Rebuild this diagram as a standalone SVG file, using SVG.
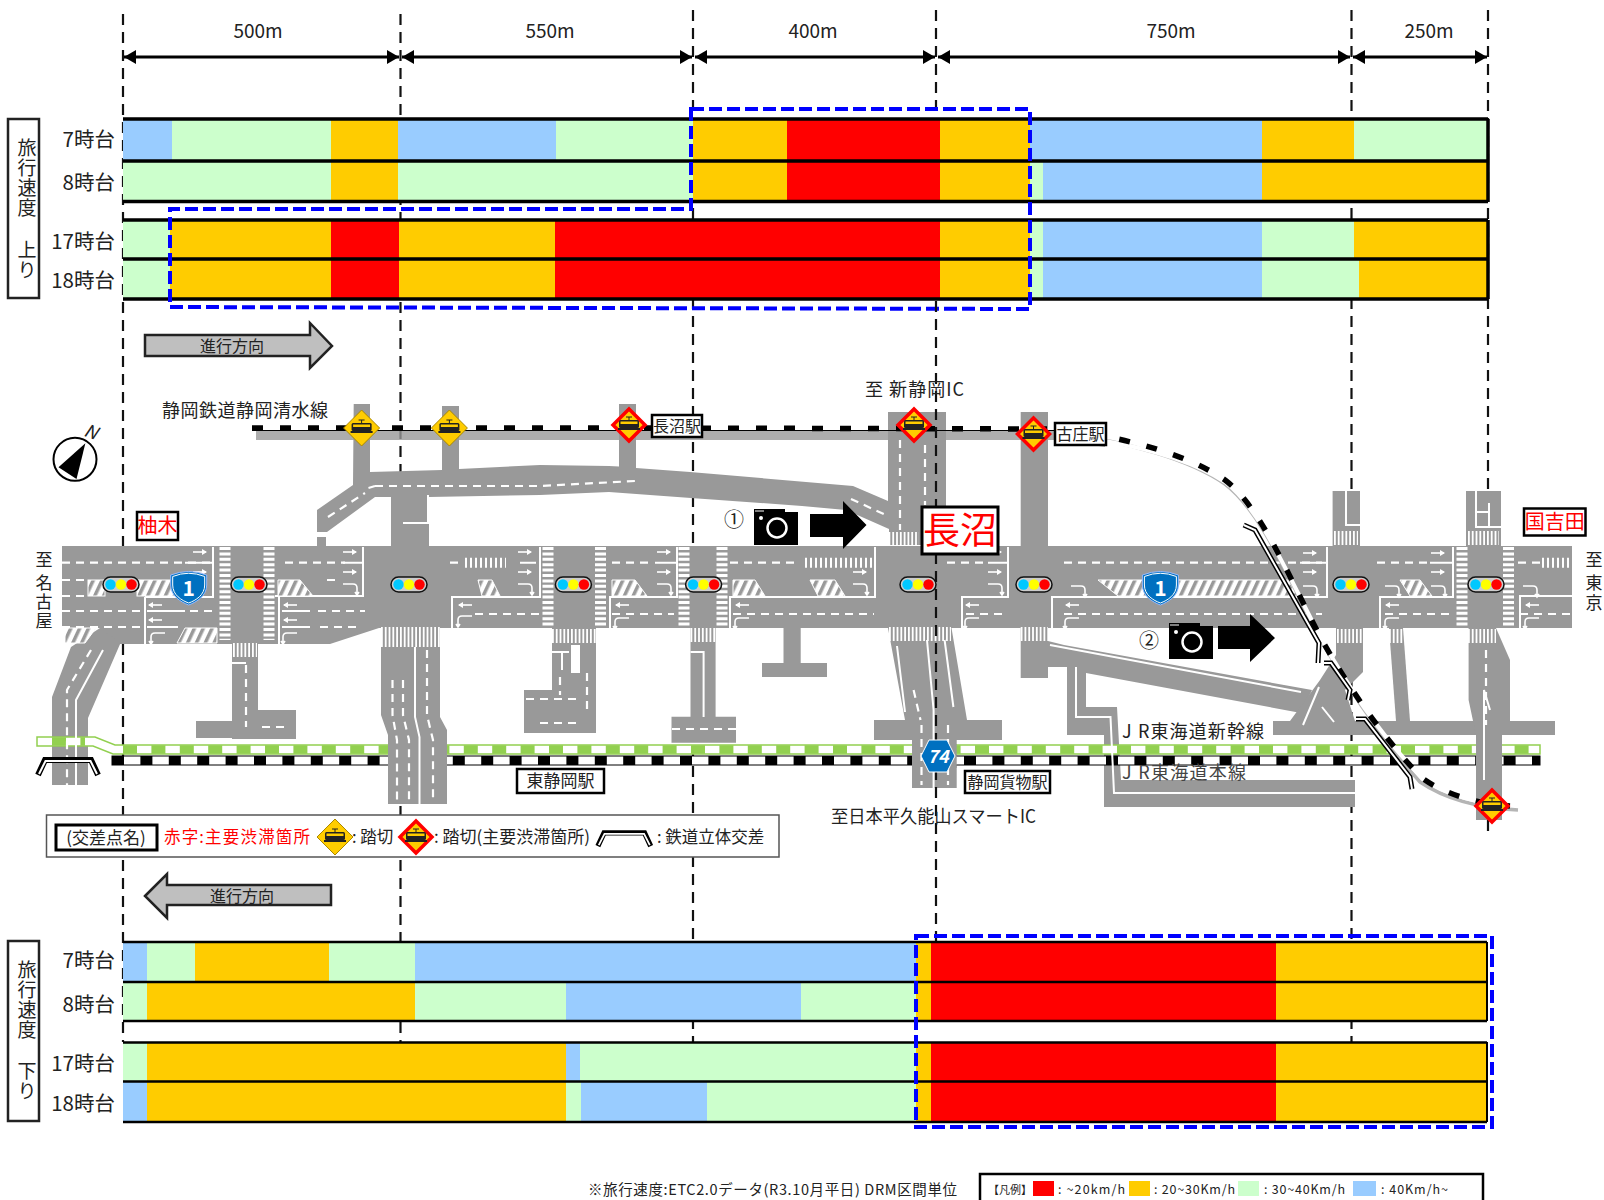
<svg xmlns="http://www.w3.org/2000/svg" width="1604" height="1200" viewBox="0 0 1604 1200">
<style>
text{font-family:"Noto Sans CJK JP","Noto Sans",sans-serif;fill:#222}
.r{fill:#f00}.o{fill:#fc0}.g{fill:#cfc}.b{fill:#9cf}
.bl{stroke:#000;stroke-width:3.5;fill:none}
.vd{stroke:#111;stroke-width:2.2;stroke-dasharray:11 7;fill:none}
.bd{stroke:#00f;stroke-width:4;stroke-dasharray:13 5;fill:none}
.dim{stroke:#000;stroke-width:3;fill:none;marker-start:url(#ah);marker-end:url(#ah)}
.rd{fill:#999}
.w{stroke:#fff;stroke-width:2;fill:none}
.wd{stroke:#fff;stroke-width:2.2;stroke-dasharray:8 6;fill:none}
.cw{stroke:#fff;stroke-width:11;stroke-dasharray:3 2.4;fill:none}
.cv{stroke:#fff;stroke-width:14;stroke-dasharray:1.8 2;fill:none}
.tk{stroke:#fff;stroke-width:10;stroke-dasharray:2 3;fill:none}
.ht{fill:url(#hatch);stroke:#fff;stroke-width:1}
.dirb{fill:#bfbfbf;stroke:#222;stroke-width:2.5}
.lab{font-size:18px}
.row{font-size:20.5px;text-anchor:end}
.dist{font-size:19px;text-anchor:middle}
.box{fill:#fff;stroke:#000;stroke-width:2.5}
.red{fill:#f00}
.sw{fill:#fff;stroke:#000;stroke-width:2.5}
</style>
<defs>
<marker id="ah" markerUnits="userSpaceOnUse" markerWidth="13" markerHeight="15" refX="12" refY="7" orient="auto-start-reverse"><path d="M0 0L12 7L0 14Z" fill="#000"/></marker>
<pattern id="hatch" patternUnits="userSpaceOnUse" width="8" height="8" patternTransform="rotate(25)"><rect width="8" height="8" fill="#fff"/><rect width="3.5" height="8" fill="#999"/></pattern>
<g id="ar"><path d="M-7 0H6" stroke="#fff" stroke-width="1.6" fill="none"/><path d="M2 -3L7 0L2 3Z" fill="#fff"/></g>
<g id="al"><path d="M-6 0H7" stroke="#fff" stroke-width="1.6" fill="none"/><path d="M-2 -3L-7 0L-2 3Z" fill="#fff"/></g>
<path id="ac" d="M-7 -4H3Q7 -4 7 0V6M5 4L7 7L9 4" stroke="#fff" stroke-width="1.6" fill="none"/>
<path id="at" d="M7 -4H-3Q-7 -4 -7 0V6M-9 4L-7 7L-5 4" stroke="#fff" stroke-width="1.6" fill="none"/>
<g id="sig"><rect x="-18" y="-7.5" width="36" height="15" rx="7.5" fill="#ccc" stroke="#111" stroke-width="1.5"/><circle cx="-10.5" r="5.2" fill="#00c8ff"/><circle r="5.2" fill="#ff0"/><circle cx="10.5" r="5.2" fill="#f00"/></g>
<g id="tram"><rect x="-10" y="-5" width="20" height="8" rx="1.5" fill="#222"/><rect x="-8.5" y="-3.5" width="17" height="2.5" fill="#fc0"/><path d="M-3 -8H3M0 -8V-5" stroke="#222" stroke-width="1"/><rect x="-11" y="3" width="22" height="2" fill="#222"/></g>
<g id="cy"><path d="M0 -18L18 0L0 18L-18 0Z" fill="#fc0" stroke="#a80" stroke-width="1"/><use href="#tram"/></g>
<g id="cr"><path d="M0 -16L16 0L0 16L-16 0Z" fill="#fc0" stroke="#f00" stroke-width="3.5"/><use href="#tram"/></g>
<g id="cam"><path d="M0 0H31V3H44V36H0Z" fill="#000"/><circle cx="23" cy="19" r="9.5" fill="none" stroke="#fff" stroke-width="2.5"/><circle cx="7" cy="9" r="2" fill="#fff"/><path d="M1 2H10" stroke="#fff" stroke-width="1"/></g>
<g id="r1"><path d="M-18 -13Q0 -20 18 -13V-3C18 8 8 14 0 17C-8 14 -18 8 -18 -3Z" fill="#0070c0" stroke="#9bf" stroke-width="1"/><path d="M-16 -11.500Q0 -18 16 -11.500V-3C16 7 7 12.500 0 15C-7 12.500 -16 7 -16 -3Z" fill="none" stroke="#fff" stroke-width="1"/><text y="8" text-anchor="middle" font-size="21" font-weight="700" style="fill:#fff">1</text></g>
<g id="ov"><path d="M1 16L8 1H54L61 16" stroke="#000" stroke-width="6" fill="none"/><path d="M2 15L8.500 2H53.500L60 15" stroke="#fff" stroke-width="2" fill="none"/></g>
</defs>

<g id="guides">
<path class="vd" d="M123 14V1042"/>
<path class="vd" d="M400.500 14V1042"/>
<path class="vd" d="M693 10V1042"/>
<path class="vd" d="M936 10V118"/>
<path class="vd" d="M1351.500 10V1042"/>
<path class="vd" d="M1488 10V832"/>
</g>

<g id="distances">
<path class="dim" d="M124 57H399"/>
<path class="dim" d="M402 57H692"/>
<path class="dim" d="M695 57H935"/>
<path class="dim" d="M938 57H1350"/>
<path class="dim" d="M1353 57H1487"/>
<text class="dist" x="258" y="38">500m</text>
<text class="dist" x="550" y="38">550m</text>
<text class="dist" x="813" y="38">400m</text>
<text class="dist" x="1171" y="38">750m</text>
<text class="dist" x="1429" y="38">250m</text>
</g>

<g id="speed-up">
<rect class="b" x="123" y="119" width="49" height="42"/><rect class="g" x="172" y="119" width="159" height="42"/><rect class="o" x="331" y="119" width="67" height="42"/><rect class="b" x="398" y="119" width="158" height="42"/><rect class="g" x="556" y="119" width="137" height="42"/><rect class="o" x="693" y="119" width="94" height="42"/><rect class="r" x="787" y="119" width="153" height="42"/><rect class="o" x="940" y="119" width="90" height="42"/><rect class="b" x="1030" y="119" width="232" height="42"/><rect class="o" x="1262" y="119" width="92" height="42"/><rect class="g" x="1354" y="119" width="134" height="42"/>
<rect class="g" x="123" y="161" width="208" height="41"/><rect class="o" x="331" y="161" width="67" height="41"/><rect class="g" x="398" y="161" width="295" height="41"/><rect class="o" x="693" y="161" width="94" height="41"/><rect class="r" x="787" y="161" width="153" height="41"/><rect class="o" x="940" y="161" width="90" height="41"/><rect class="g" x="1030" y="161" width="13" height="41"/><rect class="b" x="1043" y="161" width="219" height="41"/><rect class="o" x="1262" y="161" width="226" height="41"/>
<rect class="g" x="123" y="220" width="47" height="39"/><rect class="o" x="170" y="220" width="161" height="39"/><rect class="r" x="331" y="220" width="68" height="39"/><rect class="o" x="399" y="220" width="156" height="39"/><rect class="r" x="555" y="220" width="385" height="39"/><rect class="o" x="940" y="220" width="90" height="39"/><rect class="g" x="1030" y="220" width="13" height="39"/><rect class="b" x="1043" y="220" width="219" height="39"/><rect class="g" x="1262" y="220" width="92" height="39"/><rect class="o" x="1354" y="220" width="134" height="39"/>
<rect class="g" x="123" y="259" width="47" height="40"/><rect class="o" x="170" y="259" width="161" height="40"/><rect class="r" x="331" y="259" width="68" height="40"/><rect class="o" x="399" y="259" width="156" height="40"/><rect class="r" x="555" y="259" width="385" height="40"/><rect class="o" x="940" y="259" width="90" height="40"/><rect class="g" x="1030" y="259" width="13" height="40"/><rect class="b" x="1043" y="259" width="219" height="40"/><rect class="g" x="1262" y="259" width="97" height="40"/><rect class="o" x="1359" y="259" width="129" height="40"/>
<path class="bl" d="M123 119H1488M123 161H1488M123 201.500H1488M123 220H1488M123 259H1488M123 299H1488M1488 119V202M1488 220V299"/>
<path class="bd" d="M691 109H1030V309L170 307V209H691Z"/>
<rect x="8" y="119" width="31" height="179" fill="#fff" stroke="#222" stroke-width="2.5"/>
<text font-size="19" text-anchor="middle"><tspan x="27" y="155">旅</tspan><tspan x="27" y="175">行</tspan><tspan x="27" y="195">速</tspan><tspan x="27" y="215">度</tspan><tspan x="27" y="257">上</tspan><tspan x="27" y="277">り</tspan></text>
<text class="row" x="115" y="147">7時台</text><text class="row" x="115" y="190">8時台</text><text class="row" x="115" y="249">17時台</text><text class="row" x="115" y="288">18時台</text>
</g>

<g id="dir-up"><path class="dirb" d="M145 335H310V323L332 346L310 368V356H145Z"/><text x="232" y="352" text-anchor="middle" font-size="16">進行方向</text></g>

<g id="map-roads">
<path class="rd" d="M256 431H1060L1105 441L1105 447L1060 440H256Z" fill-opacity=".8"/>
<path class="rd" d="M353.700 404H370V472L442 470V406H459V469L540 465L609 466L619 466.500V404H636V468L690 472L853 486L888 501V412H946V545H889V529L846 510L802 506L691 498L609 492L540 495L429 497V546H391V497H375L327 532H317V510L353 485Z"/>
<rect class="rd" x="317" y="537" width="9" height="10"/>
<rect class="rd" x="1020.700" y="412" width="27.300" height="134"/>
<path class="rd" d="M62 546H1572V628H379L330 644H98L100 628H62Z"/>
<path class="rd" d="M100 628L71 647L52 697V785H88V718L120.500 643Z"/>
<path class="rd" d="M232 640H258V710H296V739H232V738H196V721H232Z"/>
<path class="rd" d="M381 626H440V717L447 730V804H388V735L381 715Z"/>
<path class="rd" d="M552 628H596V733H524V690H552Z"/>
<path class="rd" d="M690.500 628H715.600V716.700H736V742.700H671.500V716.700H690.500Z"/>
<path class="rd" d="M783.500 628H800.700V663H827V677H762V663H783.500Z"/>
<path class="rd" d="M888 628H951.500L967 720H1002V740H956.700V788H912V740H874V720H905Z"/>
<path class="rd" d="M1020.700 628H1048V641L1064 645L1312 690L1301 713L1086 673V707H1117L1121 780H1355V807H1104V735H1067V667H1048V678H1020.700Z"/>
<path class="rd" d="M1332.600 491H1360V546H1332.600Z"/><path class="rd" d="M1466 491H1501V546H1466Z"/>
<path class="rd" d="M1336 628H1363V672L1345 690L1355 721H1555V735H1273V721H1290L1320 680L1336 655Z"/>
<path class="rd" d="M1389 628H1403L1410 721H1396Z"/>
<path class="rd" d="M1468.600 628H1496L1510 660V721H1555V735H1502V820H1476V735L1468.600 700Z"/>
</g>

<g id="map-rail">
<path d="M37 737H95L115 745H1540V754H113L93 746H37Z" fill="#fff" stroke="#92d050" stroke-width="1.500"/>
<path d="M52 741.500H85M123 749.500H1540" stroke="#92d050" stroke-width="8.500" stroke-dasharray="14 14.400" fill="none"/>
<rect x="112" y="756" width="1428" height="9" fill="#fff" stroke="#000" stroke-width="1"/>
<path d="M112 760.500H1540" stroke="#000" stroke-width="9" stroke-dasharray="12 16.400"/>
</g>
<g id="map-roads-over">
<path class="rd" d="M388 744H447V768H388Z"/>
<rect class="rd" x="912" y="744" width="44.700" height="24"/>
<rect class="rd" x="1476" y="744" width="26" height="24"/>
</g>

<g id="map-markings">
<path class="wd" d="M62 562.700H210M450 562.700H462M612 562.700H654M730 562.700H796M947 562.700H988M1064 562.700H1322M1377 562.700H1429M1518 562.700H1540M285 562.700H345"/>
<path class="w" d="M185 562.700H212M343 562.700H362M520 562.700H536M655 562.700H676M988 562.700H1008M1300 562.700H1326M1430 562.700H1452"/>
<path class="tk" d="M465 562.700H506M805 562.700H874M1542 562.700H1570"/>
<path class="wd" d="M62 580H86M62 596H86M62 611H143M62 627H142M327 580H337M190 611H213M318 611H365M320 627H357M475 614H540M612 614H674M733 614H874M1064 614H1322M1385 614H1450M1520 614H1570M966 614H1005"/>
<path class="w" d="M145 597H213V547M145 597V644M147 611H185M147 627H178M275 596H363V547M279 597V644M282 611H310M282 627H310M452 628V597H540V547M610 628V597H677V547M730 628V597H875V547M962 628V597H1008V547M1052 628V597H1327V547M1380 628V597H1453V547M1520 628V596H1572"/>
<rect class="ht" x="88" y="580" width="17" height="16"/><rect class="ht" x="137" y="580" width="40" height="16"/>
<path class="ht" d="M278 580H300L313 596H278Z"/><path class="ht" d="M478 580H492L500 596H482Z"/>
<path class="ht" d="M612 580H635L647 596H612Z"/><path class="ht" d="M733 580H755L765 596H733Z"/><path class="ht" d="M810 580H835L845 596H818Z"/>
<path class="ht" d="M1098 580H1288L1298 596H1118Z"/><path class="ht" d="M1400 580H1420L1432 596H1410Z"/>
<path class="ht" d="M65 628H96L85 643H65Z"/><path class="ht" d="M185 628H217V643H177Z"/>
<path class="cw" d="M225 547V640M269 547V640M548 547V628M600.500 547V628M684 547V628M722 547V628M1462 547V628M1508.500 547V628"/>
<path class="cv" d="M233 650H257M552 636H596M690.500 635H715.600M889 634H951M1337 636H1363M1389 636H1403M1468 636H1496M1020.700 634H1048M1334 538H1358M1468 538H1499M888.500 539H919"/>
<path class="cv" style="stroke-width:20" d="M381 637H440"/>
<g><use href="#ar" x="200" y="552"/><use href="#ar" x="200" y="572"/><use href="#ar" x="350" y="552"/><use href="#ar" x="350" y="572"/><use href="#ac" x="350" y="588"/><use href="#ar" x="525" y="552"/><use href="#ar" x="525" y="572"/><use href="#ac" x="525" y="588"/><use href="#ar" x="664" y="552"/><use href="#ar" x="664" y="572"/><use href="#ac" x="664" y="588"/><use href="#ar" x="860" y="572"/><use href="#ac" x="860" y="588"/><use href="#ar" x="995" y="552"/><use href="#ar" x="995" y="572"/><use href="#ac" x="995" y="588"/><use href="#ar" x="1310" y="553"/><use href="#ar" x="1310" y="572"/><use href="#ac" x="1310" y="590"/><use href="#ar" x="1438" y="553"/><use href="#ar" x="1438" y="572"/><use href="#ac" x="1438" y="590"/>
<use href="#al" x="155" y="605"/><use href="#al" x="155" y="620"/><use href="#at" x="158" y="637"/><use href="#al" x="290" y="605"/><use href="#al" x="290" y="620"/><use href="#at" x="290" y="637"/><use href="#al" x="465" y="605"/><use href="#at" x="465" y="620"/><use href="#al" x="622" y="605"/><use href="#at" x="622" y="622"/><use href="#al" x="742" y="605"/><use href="#at" x="742" y="622"/><use href="#al" x="972" y="605"/><use href="#at" x="972" y="622"/><use href="#al" x="1072" y="605"/><use href="#at" x="1072" y="622"/><use href="#al" x="1392" y="605"/><use href="#at" x="1392" y="622"/><use href="#al" x="1532" y="605"/><use href="#at" x="1532" y="622"/><use href="#ac" x="1078" y="590"/><use href="#ac" x="1392" y="590"/><use href="#ac" x="1530" y="590"/></g>
<path class="wd" d="M91 650L67 690V785"/>
<path class="w" d="M103 650L76 700V785M403 523H428V495M415 647V717L419.500 737V804M232 663H246M703.600 717V652H690.500M1346 491V525H1360M1476 491V527H1501M1489 503V527M1476 512H1489M1076 667V717H1110.500L1114 793H1355M1050 645L1301 692M552 652H569M562 652V670"/>
<rect x="571" y="645" width="9" height="28" fill="#fff"/>
<path class="wd" d="M246 665V727M262 727H290M427 650V715L433 740V800M392.500 680V715L397 740V800M403 680V715L409 740V800M375 486H540L635 481M851 499L886 515M328 517L365 493M900 440V530M925 445V505M672 729H736M560 677V695M526 699H576M587 673V710M540 723H578M913.600 690L920.500 720M921.500 725V785M948 725V785M1486 650V725"/>
<path class="w" d="M897 646L905 712M927 640L933.600 710V788M944.600 640L953.400 707M368.500 488L375 486M1490 710L1484 690V780M1303 725L1319 687M1322 707L1334 722"/>
</g>

<g id="map-tozan-rail">
<path d="M1060 433C1130 442 1190 460 1225 484C1262 512 1290 582 1322 642C1350 692 1385 742 1420 782C1445 799 1480 808 1518 810" fill="none" stroke="#b5b5b5" stroke-width="3.500"/>
<path d="M1105 441C1150 449 1195 462 1225 482C1262 510 1290 580 1322 640C1350 690 1385 740 1422 778C1445 795 1480 804 1510 806" fill="none" stroke="#fff" stroke-width="4"/>
<path d="M252 430.500H1060L1105 439" fill="none" stroke="#000" stroke-width="1.200"/>
<path d="M252 428H640L1060 429C1130 438 1190 456 1225 480C1262 508 1290 580 1322 640C1350 690 1385 740 1422 778C1445 795 1480 804 1510 806" fill="none" stroke="#000" stroke-width="5.500" stroke-dasharray="11 17"/>
<path d="M1243.700 525L1255 530L1319 643L1318 663" fill="none" stroke="#000" stroke-width="5"/><path d="M1243.700 525L1255 530L1319 643L1318 663" fill="none" stroke="#fff" stroke-width="2"/>
<path d="M1324 663H1331L1350 690L1348 700" fill="none" stroke="#000" stroke-width="5"/><path d="M1324 663H1331L1350 690L1348 700" fill="none" stroke="#fff" stroke-width="2"/>
<path d="M1356 719H1365L1410 777L1412 789" fill="none" stroke="#000" stroke-width="5"/><path d="M1356 719H1365L1410 777L1412 789" fill="none" stroke="#fff" stroke-width="2"/>
</g>

<g id="map-signals">
<use href="#sig" x="121" y="584.500"/><use href="#sig" x="249" y="584.500"/><use href="#sig" x="409" y="584.500"/><use href="#sig" x="573.400" y="584.500"/><use href="#sig" x="703.600" y="584.500"/><use href="#sig" x="918" y="584.500"/><use href="#sig" x="1034" y="584.500"/><use href="#sig" x="1351" y="584.500"/><use href="#sig" x="1486" y="584.500"/>
</g>
<g id="map-shields">
<use href="#r1" x="188.700" y="588"/><use href="#r1" x="1160.400" y="588"/>
</g>
<path class="vd" d="M936 301V945"/>
<g id="route74"><path d="M929 740H947L955 756L947 772H929L921 756Z" fill="#0070c0" stroke="#fff" stroke-width="1"/><text x="938" y="763" text-anchor="middle" font-size="18" font-weight="700" font-style="italic" style="fill:#fff">74</text></g>

<g id="map-crossings">
<use href="#cy" x="361.600" y="428"/><use href="#cy" x="449.400" y="428"/><use href="#cr" x="629" y="425"/><use href="#cr" x="914" y="425"/><use href="#cr" x="1033.500" y="434"/><use href="#cr" x="1492" y="806"/>
</g>
<g id="compass"><circle cx="75" cy="459.300" r="21.500" fill="#fff" stroke="#000" stroke-width="2"/><path d="M85.400 443.300L58.500 467.300L76.500 479Z" fill="#000"/><text x="91" y="438" font-size="18" font-style="italic" text-anchor="middle" transform="rotate(20 91 432)">N</text></g>

<g id="map-labels">
<text class="lab" x="162" y="417" textLength="166">静岡鉄道静岡清水線</text>
<text class="lab" x="865" y="396" textLength="99">至 新静岡IC</text>
<text class="lab" x="831" y="823" textLength="205" lengthAdjust="spacingAndGlyphs">至日本平久能山スマートIC</text>
<text class="lab" x="1122" y="738" textLength="142">J R東海道新幹線</text>
<text class="lab" x="1122" y="779" textLength="124" style="fill:#444">J R東海道本線</text>
<g font-size="17" text-anchor="middle"><text x="44" y="566">至</text><text x="44" y="589">名</text><text x="44" y="608">古</text><text x="44" y="627">屋</text><text x="1594" y="566">至</text><text x="1594" y="589">東</text><text x="1594" y="609">京</text></g>
<rect class="box" x="652" y="415" width="50" height="22"/><text x="677" y="432" font-size="16" text-anchor="middle">長沼駅</text>
<rect class="box" x="1055" y="423" width="51" height="22"/><text x="1080.500" y="440" font-size="16" text-anchor="middle">古庄駅</text>
<rect class="box" x="517" y="769" width="87" height="24"/><text x="560.500" y="787" font-size="17" text-anchor="middle">東静岡駅</text>
<rect class="box" x="965" y="771" width="85" height="22" stroke-width="2"/><text x="1007.500" y="788" font-size="16" text-anchor="middle">静岡貨物駅</text>
<rect class="box" x="137" y="512" width="41" height="28"/><text class="red" x="157.500" y="533" font-size="20" text-anchor="middle">柚木</text>
<rect class="box" x="1524" y="508.500" width="61.500" height="27"/><text class="red" x="1554.700" y="529" font-size="20" text-anchor="middle">国吉田</text>
<rect x="922" y="507" width="76" height="47" fill="#fff" stroke="#000" stroke-width="3"/><text class="red" x="960" y="544" font-size="37" text-anchor="middle">長沼</text>
</g>

<g id="camera1"><text x="734" y="527" font-size="20" text-anchor="middle">①</text><use href="#cam" x="754" y="509"/><path d="M810 514H843V501L866.500 525L843 549V537H810Z" fill="#000"/></g>
<g id="camera2"><text x="1149" y="648" font-size="20" text-anchor="middle">②</text><use href="#cam" x="1169" y="623"/><path d="M1218 626H1250V614L1275 638L1250 662V649H1218Z" fill="#000"/></g>
<use id="overpass" href="#ov" x="37" y="759"/>

<g id="map-legend">
<rect x="46.500" y="815" width="732.500" height="42" fill="#fff" stroke="#555" stroke-width="1.500"/>
<rect x="56" y="825" width="101" height="25" fill="#fff" stroke="#000" stroke-width="3"/>
<text x="106" y="844" font-size="17" text-anchor="middle">(交差点名)</text>
<text class="red" x="164" y="843" font-size="16.500" textLength="146">赤字:主要渋滞箇所</text>
<use href="#cy" x="335" y="837"/>
<text x="352" y="843" font-size="16.500">: 踏切</text>
<use href="#cr" x="416" y="837"/>
<text x="434" y="843" font-size="17">: 踏切(主要渋滞箇所)</text>
<g transform="translate(597 832) scale(.88)"><use href="#ov"/></g>
<text x="657" y="843" font-size="16.500">: 鉄道立体交差</text>
</g>

<g id="dir-down"><path class="dirb" d="M145 896L167 874V885H331V905H167V918Z"/><text x="242" y="902" text-anchor="middle" font-size="16">進行方向</text></g>

<g id="speed-down">
<rect class="b" x="123" y="942" width="24" height="40"/><rect class="g" x="147" y="942" width="48" height="40"/><rect class="o" x="195" y="942" width="134" height="40"/><rect class="g" x="329" y="942" width="86" height="40"/><rect class="b" x="415" y="942" width="501" height="40"/><rect class="o" x="916" y="942" width="15" height="40"/><rect class="r" x="931" y="942" width="345" height="40"/><rect class="o" x="1276" y="942" width="211" height="40"/>
<rect class="g" x="123" y="982" width="24" height="39"/><rect class="o" x="147" y="982" width="268" height="39"/><rect class="g" x="415" y="982" width="151" height="39"/><rect class="b" x="566" y="982" width="235" height="39"/><rect class="g" x="801" y="982" width="115" height="39"/><rect class="o" x="916" y="982" width="15" height="39"/><rect class="r" x="931" y="982" width="345" height="39"/><rect class="o" x="1276" y="982" width="211" height="39"/>
<rect class="g" x="123" y="1042.500" width="24" height="39"/><rect class="o" x="147" y="1042.500" width="419" height="39"/><rect class="b" x="566" y="1042.500" width="14" height="39"/><rect class="g" x="580" y="1042.500" width="336" height="39"/><rect class="o" x="916" y="1042.500" width="15" height="39"/><rect class="r" x="931" y="1042.500" width="345" height="39"/><rect class="o" x="1276" y="1042.500" width="211" height="39"/>
<rect class="b" x="123" y="1081.500" width="24" height="40.500"/><rect class="o" x="147" y="1081.500" width="419" height="40.500"/><rect class="g" x="566" y="1081.500" width="15" height="40.500"/><rect class="b" x="581" y="1081.500" width="126" height="40.500"/><rect class="g" x="707" y="1081.500" width="209" height="40.500"/><rect class="o" x="916" y="1081.500" width="15" height="40.500"/><rect class="r" x="931" y="1081.500" width="345" height="40.500"/><rect class="o" x="1276" y="1081.500" width="211" height="40.500"/>
<path d="M123 942H1487M123 982H1487M123 1021H1487M123 1042.500H1487M123 1081.500H1487M123 1122H1487" stroke="#000" stroke-width="2.500" fill="none"/>
<path d="M1487 942V1021M1487 1042V1122" stroke="#000" stroke-width="2"/>
<rect class="bd" x="916" y="936" width="576" height="191"/>
<rect x="8" y="941" width="31" height="180" fill="#fff" stroke="#222" stroke-width="2.500"/>
<text font-size="19" text-anchor="middle"><tspan x="27" y="977">旅</tspan><tspan x="27" y="997">行</tspan><tspan x="27" y="1017">速</tspan><tspan x="27" y="1037">度</tspan><tspan x="27" y="1078">下</tspan><tspan x="27" y="1098">り</tspan></text>
<text class="row" x="115" y="968">7時台</text><text class="row" x="115" y="1012">8時台</text><text class="row" x="115" y="1071">17時台</text><text class="row" x="115" y="1111">18時台</text>
</g>

<g id="footer">
<text x="588" y="1195" font-size="14.500" textLength="369">※旅行速度:ETC2.0データ(R3.10月平日) DRM区間単位</text>
<rect x="980" y="1174" width="503" height="30" fill="#fff" stroke="#000" stroke-width="2.500"/>
<text x="988" y="1194" font-size="11">【凡例】</text>
<rect class="r" x="1033" y="1181" width="21" height="15"/><text x="1058" y="1194" font-size="12.500" textLength="67">: ~20km/h</text>
<rect class="o" x="1129" y="1181" width="21" height="15"/><text x="1154" y="1194" font-size="12.500" textLength="81">: 20~30Km/h</text>
<rect class="g" x="1238" y="1181" width="21" height="15"/><text x="1264" y="1194" font-size="12.500" textLength="81">: 30~40Km/h</text>
<rect class="b" x="1353" y="1181" width="23" height="15"/><text x="1381" y="1194" font-size="12.500" textLength="67">: 40Km/h~</text>
</g>
</svg>
